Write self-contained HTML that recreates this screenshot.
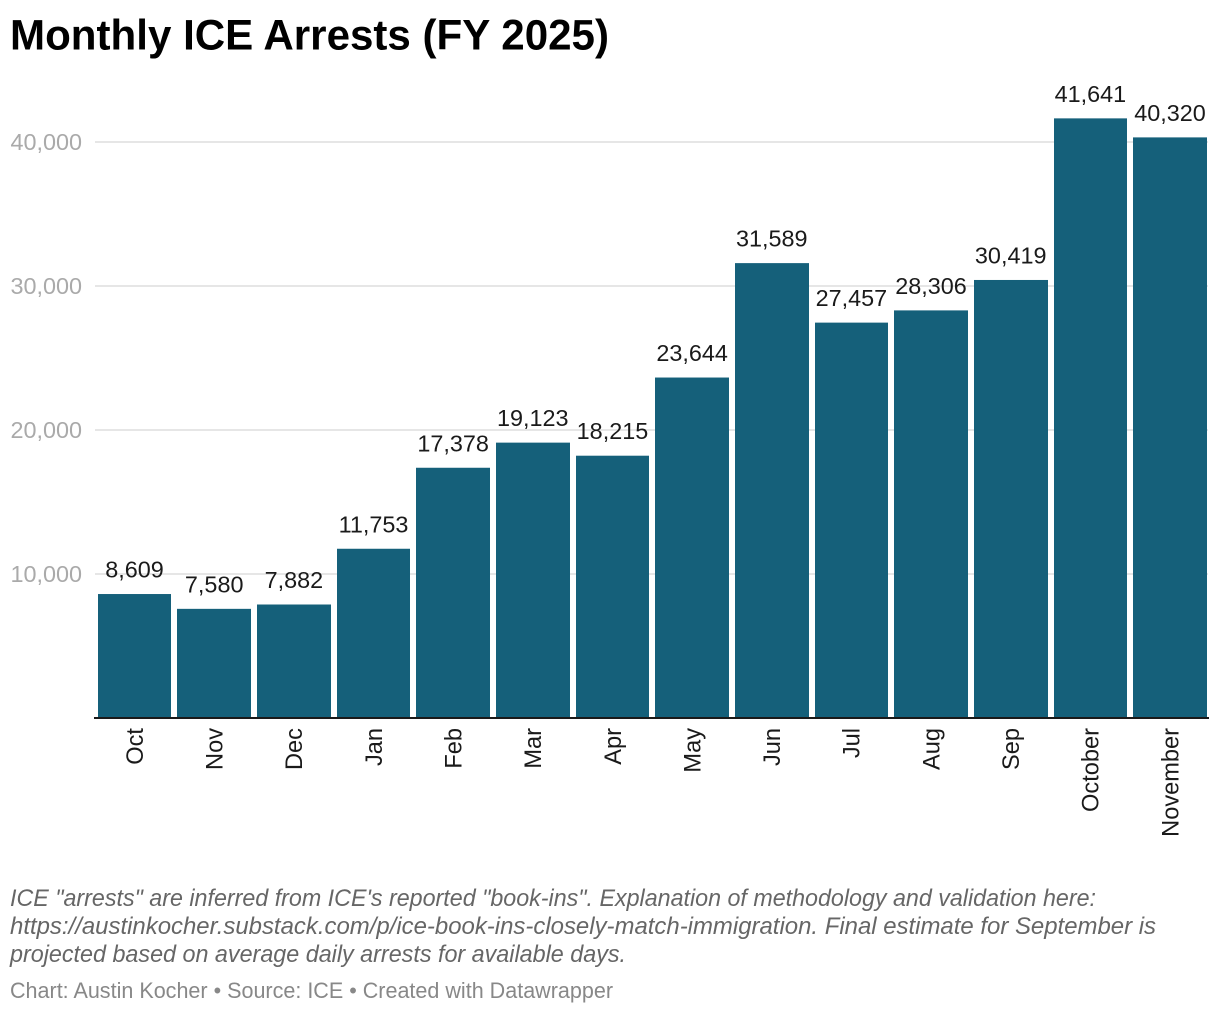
<!DOCTYPE html>
<html lang="en">
<head>
<meta charset="utf-8">
<title>Monthly ICE Arrests (FY 2025)</title>
<style>
  html, body { margin: 0; padding: 0; background: #fff; }
  svg { display: block; font-family: "Liberation Sans", sans-serif; }
</style>
</head>
<body>
<svg id="chart" width="1220" height="1016" viewBox="0 0 1220 1016" xmlns="http://www.w3.org/2000/svg">
  <rect width="1220" height="1016" fill="#ffffff"/>
  <text x="10" y="49.5" font-size="43" font-weight="700" fill="#000000" textLength="599" lengthAdjust="spacingAndGlyphs">Monthly ICE Arrests (FY 2025)</text>
  <g id="grid"></g>
  <g id="bars"></g>
  <g id="values"></g>
  <rect x="94" y="717" width="1115" height="2" fill="#1a1a1a"/>
  <g id="cats"></g>
  <g font-size="24" font-style="italic" fill="#666666">
    <text x="10" y="906" textLength="1086" lengthAdjust="spacingAndGlyphs">ICE "arrests" are inferred from ICE's reported "book-ins". Explanation of methodology and validation here:</text>
    <text x="10" y="934" textLength="1146" lengthAdjust="spacingAndGlyphs">https://austinkocher.substack.com/p/ice-book-ins-closely-match-immigration. Final estimate for September is</text>
    <text x="10" y="962" textLength="616" lengthAdjust="spacingAndGlyphs">projected based on average daily arrests for available days.</text>
  </g>
  <text x="10" y="998" font-size="22" fill="#888888" textLength="603" lengthAdjust="spacingAndGlyphs">Chart: Austin Kocher • Source: ICE • Created with Datawrapper</text>
</svg>
<script>
const categories = ["Oct", "Nov", "Dec", "Jan", "Feb", "Mar", "Apr", "May", "Jun", "Jul", "Aug", "Sep", "October", "November"];
const arrests = [8609, 7580, 7882, 11753, 17378, 19123, 18215, 23644, 31589, 27457, 28306, 30419, 41641, 40320];
const yTicks = [10000, 20000, 30000, 40000];

const SVG_NS = "http://www.w3.org/2000/svg";
const fmt = function (v) { return v.toLocaleString("en-US"); };
const yScale = function (v) { return 718 - v * 0.0144; };
const bandStep = 79.65;
const xStart = 97.7;
const bandWidth = 73.7;
const xLeft = function (i) { return Math.round(xStart + i * bandStep); };
const xRight = function (i) { return Math.round(xStart + i * bandStep + bandWidth); };
const xCenter = function (i) { return xStart + i * bandStep + bandWidth / 2; };

function make(tag, attrs, text) {
  const el = document.createElementNS(SVG_NS, tag);
  Object.keys(attrs).forEach(function (k) { el.setAttribute(k, attrs[k]); });
  if (text !== undefined) el.textContent = text;
  return el;
}

const grid = document.getElementById("grid");
yTicks.forEach(function (t) {
  const y = yScale(t);
  const line = make("rect", { x: 95, y: y - 1, width: 1113, height: 2, fill: "#e6e6e6" });
  
  
  grid.appendChild(line);
  const label = make("text", { x: 82, y: y + 8, "text-anchor": "end", "font-size": 23.4, fill: "#aaaaaa" }, fmt(t));
  
  
  grid.appendChild(label);
});

const barsG = document.getElementById("bars");
const valuesG = document.getElementById("values");
const catsG = document.getElementById("cats");
arrests.forEach(function (v, i) {
  const top = yScale(v);
  const bar = make("rect", { x: xLeft(i), y: top, width: xRight(i) - xLeft(i), height: 718 - top, fill: "#15607a" });
  
  
  barsG.appendChild(bar);

  const val = make("text", { x: xCenter(i), y: top - 16.5, "text-anchor": "middle", "font-size": 23.4, fill: "#1a1a1a" }, fmt(v));
  
  
  valuesG.appendChild(val);

  const cx = xCenter(i) + 8.3;
  const cat = make("text", { x: cx, y: 728, "text-anchor": "end", "font-size": 23.6, fill: "#1a1a1a", transform: "rotate(-90 " + cx + " 728)" }, categories[i]);
  
  
  catsG.appendChild(cat);
});
</script>
</body>
</html>
